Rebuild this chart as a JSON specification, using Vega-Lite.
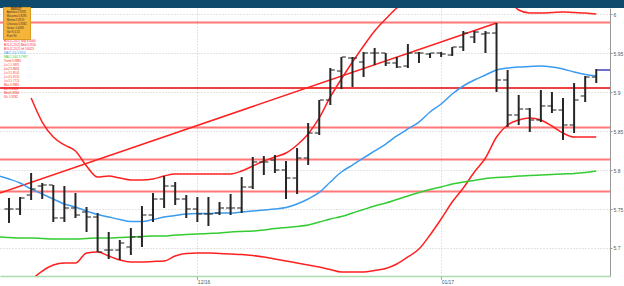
{
  "$schema": "https://vega.github.io/schema/vega-lite/v6.json",
  "width": 610,
  "height": 268,
  "autosize": {"type": "none"},
  "padding": {"left": 0, "top": 8, "right": 14, "bottom": 10},
  "background": "white",
  "config": {
    "view": {"stroke": null},
    "font": "Liberation Sans",
    "axis": {"labelFontSize": 5, "labelColor": "#555", "gridColor": "#c8c8c8", "gridDash": [1, 2], "gridWidth": 1, "tickColor": "#999", "domainColor": "#999"}
  },
  "datasets": {
    "bars": [
      {"k": -1, "ma20": 5.7929, "ma100": 5.7141},
      {"k": 0, "o": 5.75, "h": 5.7641, "l": 5.7321, "c": 5.75, "ma20": 5.7885, "ma100": 5.7135, "bbl": 5.6333},
      {"k": 1, "o": 5.75, "h": 5.7654, "l": 5.7423, "c": 5.7641, "ma20": 5.7833, "ma100": 5.7128, "bbl": 5.6462},
      {"k": 2, "o": 5.7679, "h": 5.7962, "l": 5.7615, "c": 5.7756, "ma20": 5.7756, "ma100": 5.7128, "bbu": 5.8923, "bbl": 5.659},
      {"k": 3, "o": 5.7795, "h": 5.7833, "l": 5.7628, "c": 5.7808, "ma20": 5.7692, "ma100": 5.7122, "bbu": 5.8615, "bbl": 5.6705},
      {"k": 4, "o": 5.7808, "h": 5.7808, "l": 5.7333, "c": 5.7385, "ma20": 5.7628, "ma100": 5.7115, "bbu": 5.8423, "bbl": 5.6782},
      {"k": 5, "o": 5.7385, "h": 5.7795, "l": 5.7333, "c": 5.7513, "ma20": 5.7564, "ma100": 5.7115, "bbu": 5.8321, "bbl": 5.6808},
      {"k": 6, "o": 5.7513, "h": 5.7705, "l": 5.7385, "c": 5.7423, "ma20": 5.7526, "ma100": 5.7115, "bbu": 5.8244, "bbl": 5.6808},
      {"k": 7, "o": 5.7462, "h": 5.7526, "l": 5.7205, "c": 5.7397, "ma20": 5.7474, "ma100": 5.7122, "bbu": 5.8051, "bbl": 5.6936},
      {"k": 8, "o": 5.7397, "h": 5.7449, "l": 5.6949, "c": 5.6949, "ma20": 5.7429, "ma100": 5.7128, "bbu": 5.791, "bbl": 5.6949},
      {"k": 9, "o": 5.6974, "h": 5.7205, "l": 5.6859, "c": 5.6974, "ma20": 5.7397, "ma100": 5.7128, "bbu": 5.7923, "bbl": 5.6897},
      {"k": 10, "o": 5.6974, "h": 5.7103, "l": 5.6846, "c": 5.7064, "ma20": 5.7365, "ma100": 5.7135, "bbu": 5.7897, "bbl": 5.6846},
      {"k": 11, "o": 5.7013, "h": 5.7256, "l": 5.691, "c": 5.7141, "ma20": 5.734, "ma100": 5.7141, "bbu": 5.7872, "bbl": 5.6821},
      {"k": 12, "o": 5.7141, "h": 5.7538, "l": 5.7013, "c": 5.7423, "ma20": 5.734, "ma100": 5.7147, "bbu": 5.7872, "bbl": 5.6821},
      {"k": 13, "o": 5.7423, "h": 5.7705, "l": 5.7333, "c": 5.7628, "ma20": 5.7365, "ma100": 5.7154, "bbu": 5.7885, "bbl": 5.6827},
      {"k": 14, "o": 5.7628, "h": 5.7923, "l": 5.7513, "c": 5.7795, "ma20": 5.7397, "ma100": 5.7154, "bbu": 5.7923, "bbl": 5.6833},
      {"k": 15, "o": 5.7795, "h": 5.7846, "l": 5.7551, "c": 5.7628, "ma20": 5.7417, "ma100": 5.7167, "bbu": 5.7949, "bbl": 5.6897},
      {"k": 16, "o": 5.7628, "h": 5.7679, "l": 5.7385, "c": 5.75, "ma20": 5.7436, "ma100": 5.7173, "bbu": 5.7949, "bbl": 5.693},
      {"k": 17, "o": 5.75, "h": 5.7654, "l": 5.7333, "c": 5.7436, "ma20": 5.7442, "ma100": 5.7179, "bbu": 5.7949, "bbl": 5.6936},
      {"k": 18, "o": 5.7436, "h": 5.7654, "l": 5.7282, "c": 5.7436, "ma20": 5.7442, "ma100": 5.7186, "bbu": 5.7949, "bbl": 5.6936},
      {"k": 19, "o": 5.7449, "h": 5.759, "l": 5.7423, "c": 5.7513, "ma20": 5.7449, "ma100": 5.7192, "bbu": 5.7949, "bbl": 5.693},
      {"k": 20, "o": 5.7513, "h": 5.7692, "l": 5.7423, "c": 5.7513, "ma20": 5.7449, "ma100": 5.7205, "bbu": 5.7949, "bbl": 5.6923},
      {"k": 21, "o": 5.7513, "h": 5.791, "l": 5.7449, "c": 5.7782, "ma20": 5.7462, "ma100": 5.7212, "bbu": 5.7987, "bbl": 5.6917},
      {"k": 22, "o": 5.7782, "h": 5.8167, "l": 5.7756, "c": 5.8103, "ma20": 5.7474, "ma100": 5.7218, "bbu": 5.8051, "bbl": 5.6904},
      {"k": 23, "o": 5.8103, "h": 5.8179, "l": 5.7936, "c": 5.8103, "ma20": 5.7487, "ma100": 5.7231, "bbu": 5.8115, "bbl": 5.6885},
      {"k": 24, "o": 5.8128, "h": 5.8192, "l": 5.7962, "c": 5.8, "ma20": 5.75, "ma100": 5.725, "bbu": 5.8167, "bbl": 5.6859},
      {"k": 25, "o": 5.8, "h": 5.8115, "l": 5.7628, "c": 5.7897, "ma20": 5.7519, "ma100": 5.7263, "bbu": 5.8218, "bbl": 5.6833},
      {"k": 26, "o": 5.7897, "h": 5.8282, "l": 5.7692, "c": 5.8154, "ma20": 5.7564, "ma100": 5.7276, "bbu": 5.8321, "bbl": 5.6808},
      {"k": 27, "o": 5.8154, "h": 5.8603, "l": 5.8064, "c": 5.8474, "ma20": 5.7628, "ma100": 5.7295, "bbu": 5.8462, "bbl": 5.6782},
      {"k": 28, "o": 5.8474, "h": 5.8897, "l": 5.8449, "c": 5.8897, "ma20": 5.7712, "ma100": 5.7333, "bbu": 5.8667, "bbl": 5.6756},
      {"k": 29, "o": 5.8897, "h": 5.9308, "l": 5.8833, "c": 5.9282, "ma20": 5.7846, "ma100": 5.7372, "bbu": 5.8936, "bbl": 5.6724},
      {"k": 30, "o": 5.9269, "h": 5.9449, "l": 5.9038, "c": 5.9449, "ma20": 5.7974, "ma100": 5.7404, "bbu": 5.9167, "bbl": 5.6692},
      {"k": 31, "o": 5.9436, "h": 5.9449, "l": 5.9064, "c": 5.9436, "ma20": 5.8064, "ma100": 5.7449, "bbu": 5.9385, "bbl": 5.6692},
      {"k": 32, "o": 5.9385, "h": 5.9513, "l": 5.9192, "c": 5.95, "ma20": 5.8154, "ma100": 5.7494, "bbu": 5.959, "bbl": 5.6692},
      {"k": 33, "o": 5.95, "h": 5.9564, "l": 5.9346, "c": 5.95, "ma20": 5.8244, "ma100": 5.7538, "bbu": 5.9782, "bbl": 5.6712},
      {"k": 34, "o": 5.95, "h": 5.95, "l": 5.9333, "c": 5.9372, "ma20": 5.8333, "ma100": 5.7577, "bbu": 5.9936, "bbl": 5.6737},
      {"k": 35, "o": 5.9372, "h": 5.9449, "l": 5.9308, "c": 5.9321, "ma20": 5.8436, "ma100": 5.7622, "bbu": 6.0077, "bbl": 5.6795},
      {"k": 36, "o": 5.9333, "h": 5.9615, "l": 5.9308, "c": 5.95, "ma20": 5.8526, "ma100": 5.7667, "bbu": 6.018, "bbl": 5.6885},
      {"k": 37, "o": 5.95, "h": 5.9513, "l": 5.9372, "c": 5.95, "ma20": 5.8615, "ma100": 5.7712, "bbu": 6.0282, "bbl": 5.6987},
      {"k": 38, "o": 5.9487, "h": 5.95, "l": 5.9436, "c": 5.95, "ma20": 5.8744, "ma100": 5.775, "bbu": 6.0359, "bbl": 5.7167},
      {"k": 39, "o": 5.95, "h": 5.9513, "l": 5.9449, "c": 5.9487, "ma20": 5.8846, "ma100": 5.7782, "bbu": 6.041, "bbl": 5.7372},
      {"k": 40, "o": 5.9474, "h": 5.9577, "l": 5.9462, "c": 5.9577, "ma20": 5.8974, "ma100": 5.7821, "bbu": 6.041, "bbl": 5.759},
      {"k": 41, "o": 5.9577, "h": 5.9782, "l": 5.9526, "c": 5.9756, "ma20": 5.9077, "ma100": 5.7846, "bbu": 6.0385, "bbl": 5.7769},
      {"k": 42, "o": 5.9705, "h": 5.9782, "l": 5.9628, "c": 5.9769, "ma20": 5.9154, "ma100": 5.7865, "bbu": 6.0333, "bbl": 5.7974},
      {"k": 43, "o": 5.9744, "h": 5.9782, "l": 5.95, "c": 5.9756, "ma20": 5.9218, "ma100": 5.7891, "bbu": 6.0256, "bbl": 5.8154},
      {"k": 44, "o": 5.9756, "h": 5.9885, "l": 5.9, "c": 5.9154, "ma20": 5.9282, "ma100": 5.7904, "bbu": 6.0282, "bbl": 5.8423},
      {"k": 45, "o": 5.9154, "h": 5.9282, "l": 5.8551, "c": 5.8705, "ma20": 5.9308, "ma100": 5.791, "bbu": 6.0205, "bbl": 5.8577},
      {"k": 46, "o": 5.8705, "h": 5.8962, "l": 5.8577, "c": 5.8782, "ma20": 5.9321, "ma100": 5.7923, "bbu": 6.0051, "bbl": 5.8641},
      {"k": 47, "o": 5.8782, "h": 5.8795, "l": 5.8487, "c": 5.8641, "ma20": 5.9327, "ma100": 5.7929, "bbu": 6.0013, "bbl": 5.8667},
      {"k": 48, "o": 5.8641, "h": 5.9026, "l": 5.8615, "c": 5.8821, "ma20": 5.9333, "ma100": 5.7936, "bbu": 6.0013, "bbl": 5.8641},
      {"k": 49, "o": 5.8821, "h": 5.9, "l": 5.8731, "c": 5.8769, "ma20": 5.9321, "ma100": 5.7942, "bbu": 6.0019, "bbl": 5.8564},
      {"k": 50, "o": 5.8769, "h": 5.8923, "l": 5.8385, "c": 5.8577, "ma20": 5.9295, "ma100": 5.7949, "bbu": 6.0026, "bbl": 5.8474},
      {"k": 51, "o": 5.8577, "h": 5.9115, "l": 5.8474, "c": 5.8897, "ma20": 5.9256, "ma100": 5.7955, "bbu": 6.0019, "bbl": 5.8423},
      {"k": 52, "o": 5.8949, "h": 5.9205, "l": 5.8872, "c": 5.9192, "ma20": 5.9224, "ma100": 5.7968, "bbu": 6.0013, "bbl": 5.8423},
      {"k": 53, "o": 5.9192, "h": 5.9295, "l": 5.9115, "c": 5.9282, "ma20": 5.9205, "ma100": 5.7987, "bbu": 6.0, "bbl": 5.8423}
    ],
    "levels": [
      {"name": "Liv.1  5.9891", "v": 5.9891},
      {"name": "Liv.3  5.8545", "v": 5.8545},
      {"name": "Liv.4  5.8135", "v": 5.8135},
      {"name": "Liv.5  5.7724", "v": 5.7724}
    ],
    "mainLevel": [
      {"name": "Liv.2  5.9051", "v": 5.9051}
    ],
    "trend": [
      {"k": -0.81, "v": 5.7705},
      {"k": 44, "v": 5.9885}
    ],
    "info": [
      {"item": "Apertura   5.9192"},
      {"item": "Massimo    5.9295"},
      {"item": "Minimo     5.9115"},
      {"item": "Chiusura   5.9282"},
      {"item": "Variaz.    0.0090"},
      {"item": "Var.%      0.15"},
      {"item": "Punti      90"}
    ]
  },
  "layer": [
    {
      "data": {"values": [{}]},
      "mark": {"type": "rect", "color": "#0f4a6c"},
      "encoding": {
        "x": {"datum": -0.81, "type": "quantitative", "title": null},
        "x2": {"datum": 55.6},
        "y": {"datum": 6.0077, "type": "quantitative", "title": null},
        "y2": {"datum": 6.0182}
      }
    },
    {
      "data": {"name": "levels"},
      "mark": {"type": "rule", "strokeWidth": 2, "opacity": 0.7},
      "encoding": {
        "y": {"field": "v", "type": "quantitative", "title": null},
        "stroke": {
          "field": "name",
          "type": "nominal",
          "scale": {
            "domain": ["BOL(C,20,2) Sup  6.0000", "BOL(C,20,2) Med  5.9205", "BOL(C,20,2) Inf  5.8423", "MA(C,20)  5.9205", "MA(C,100)  5.7987", "Trend  5.9885", "Liv.1  5.9891", "Liv.2  5.9051", "Liv.3  5.8545", "Liv.4  5.8135", "Liv.5  5.7724", "Max  5.9885", "Min  5.6846", "Med  5.8366", "Ult.  5.9282"],
            "range": ["#ff2020", "#ff2020", "#ff2020", "#3a9bf0", "#33cc33", "#ff2020", "#ff4040", "#e80000", "#ff4040", "#ff4040", "#ff4040", "#ff2020", "#ff2020", "#ff2020", "#ff2020"]
          },
          "legend": {
            "title": null,
            "orient": "none",
            "legendX": 1,
            "legendY": 31,
            "padding": 0,
            "symbolSize": 0,
            "symbolOpacity": 0,
            "symbolStrokeWidth": 0,
            "labelOffset": 0,
            "labelFontSize": 2.9,
            "rowPadding": 0,
            "labelLimit": 80,
            "encode": {"labels": {"update": {"fill": {"signal": "scale('stroke', datum.value)"}}}}
          }
        }
      }
    },
    {
      "data": {"name": "mainLevel"},
      "mark": {"type": "rule", "strokeWidth": 1.4},
      "encoding": {
        "y": {"field": "v", "type": "quantitative", "title": null},
        "stroke": {"field": "name", "type": "nominal"}
      }
    },
    {
      "data": {"name": "trend"},
      "mark": {"type": "line", "color": "#ff2020", "strokeWidth": 1.5, "clip": true},
      "encoding": {
        "x": {"field": "k", "type": "quantitative", "title": null},
        "y": {"field": "v", "type": "quantitative", "title": null}
      }
    },
    {
      "data": {"name": "bars"},
      "mark": {"type": "line", "color": "#ff2020", "strokeWidth": 1.5, "clip": true, "interpolate": "monotone"},
      "encoding": {
        "x": {"field": "k", "type": "quantitative", "title": null},
        "y": {"field": "bbu", "type": "quantitative", "title": null}
      }
    },
    {
      "data": {"name": "bars"},
      "mark": {"type": "line", "color": "#ff2020", "strokeWidth": 1.5, "clip": true, "interpolate": "monotone"},
      "encoding": {
        "x": {"field": "k", "type": "quantitative", "title": null},
        "y": {"field": "bbl", "type": "quantitative", "title": null}
      }
    },
    {
      "data": {"name": "bars"},
      "mark": {"type": "line", "color": "#3a9bf0", "strokeWidth": 1.5, "clip": true, "interpolate": "monotone"},
      "encoding": {
        "x": {"field": "k", "type": "quantitative", "title": null},
        "y": {"field": "ma20", "type": "quantitative", "title": null}
      }
    },
    {
      "data": {"name": "bars"},
      "mark": {"type": "line", "color": "#33cc33", "strokeWidth": 1.5, "clip": true, "interpolate": "monotone"},
      "encoding": {
        "x": {"field": "k", "type": "quantitative", "title": null},
        "y": {"field": "ma100", "type": "quantitative", "title": null}
      }
    },
    {
      "data": {"name": "bars"},
      "mark": {"type": "rule", "color": "#262626", "strokeWidth": 2},
      "encoding": {
        "x": {
          "field": "k",
          "type": "quantitative",
          "title": null,
          "scale": {"domain": [-0.81, 54.24], "nice": false, "zero": false},
          "axis": {
            "orient": "bottom",
            "values": [17, 39],
            "labelExpr": "datum.value == 17 ? '12/16' : '01/17'",
            "grid": true,
            "domainColor": "#a8dca8",
            "domainWidth": 1.5,
            "tickSize": 3,
            "labelAlign": "left",
            "labelPadding": 0,
            "labelFlush": false
          }
        },
        "y": {
          "field": "l",
          "type": "quantitative",
          "title": null,
          "scale": {"domain": [5.6641, 6.0077], "nice": false, "zero": false},
          "axis": {
            "orient": "right",
            "values": [5.7, 5.75, 5.8, 5.85, 5.9, 5.95, 6.0],
            "labelExpr": "format(datum.value, '.2~f')",
            "grid": true,
            "tickSize": 2,
            "labelPadding": 1,
            "domainColor": "#999",
            "labelFlush": false
          }
        },
        "y2": {"field": "h"}
      }
    },
    {
      "data": {"name": "bars"},
      "mark": {"type": "tick", "orient": "horizontal", "color": "#262626", "size": 4, "thickness": 1.5, "xOffset": -2.5},
      "encoding": {
        "x": {"field": "k", "type": "quantitative", "title": null},
        "y": {"field": "o", "type": "quantitative", "title": null}
      }
    },
    {
      "data": {"name": "bars"},
      "mark": {"type": "tick", "orient": "horizontal", "color": "#262626", "size": 4, "thickness": 1.5, "xOffset": 2.5},
      "encoding": {
        "x": {"field": "k", "type": "quantitative", "title": null},
        "y": {"field": "c", "type": "quantitative", "title": null}
      }
    },
    {
      "data": {"values": [{}]},
      "mark": {"type": "rule", "color": "#7070c8", "strokeWidth": 2},
      "encoding": {
        "x": {"datum": 53.1, "type": "quantitative", "title": null},
        "x2": {"datum": 54.24},
        "y": {"datum": 5.9282, "type": "quantitative", "title": null}
      }
    },
    {
      "data": {"name": "info"},
      "mark": {"type": "point", "opacity": 0},
      "encoding": {
        "fill": {
          "field": "item",
          "type": "nominal",
          "sort": null,
          "legend": {
            "title": "20/01/17",
            "orient": "none",
            "legendX": 3,
            "legendY": -1,
            "fillColor": "#f5b43a",
            "strokeColor": "#d99a20",
            "padding": 1,
            "symbolSize": 0,
            "symbolOpacity": 0,
            "symbolStrokeWidth": 0,
            "labelOffset": 0,
            "labelFontSize": 2.7,
            "titleFontSize": 2.7,
            "titlePadding": 0.2,
            "titleAnchor": "middle",
            "rowPadding": 0,
            "labelColor": "#333",
            "titleColor": "#222"
          }
        }
      }
    }
  ]
}
